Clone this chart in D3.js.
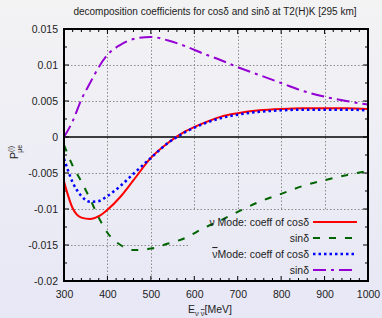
<!DOCTYPE html>
<html><head><meta charset="utf-8">
<script src="https://cdn.jsdelivr.net/npm/d3@7"></script>
<style>html,body{margin:0;padding:0;}svg{display:block;}</style>
</head><body>
<script>
const energies = [300,320,340,360,380,400,430,460,500,540,580,620,660,700,750,800,850,900,950,1000];
const nuCos   = [-0.0062,-0.0099,-0.0112,-0.0114,-0.0110,-0.0101,-0.0083,-0.0060,-0.0029,-0.0008,0.0008,0.0019,0.0028,0.0033,0.0037,0.0039,0.0040,0.0040,0.0040,0.0039];
const nuSin   = [-0.0011,-0.0040,-0.0062,-0.0086,-0.0112,-0.0133,-0.0150,-0.0157,-0.0155,-0.0148,-0.0140,-0.0127,-0.0116,-0.0104,-0.0090,-0.0079,-0.0068,-0.0060,-0.0053,-0.0047];
const barCos  = [-0.0030,-0.0063,-0.0082,-0.0090,-0.0089,-0.0082,-0.0068,-0.0051,-0.0029,-0.0008,0.0007,0.0018,0.0026,0.0031,0.0035,0.0037,0.0038,0.0038,0.0038,0.0037];
const barSin  = [0.0000,0.0022,0.0052,0.0075,0.0097,0.0114,0.0128,0.0136,0.0139,0.0134,0.0126,0.0116,0.0107,0.0097,0.0086,0.0075,0.0064,0.0056,0.0050,0.0045];
const xTicks = [300,400,500,600,700,800,900,1000];
const yTicks = [0.015,0.01,0.005,0,-0.005,-0.01,-0.015,-0.02];
const yTickLabels = ["0.015","0.01","0.005","0","-0.005","-0.01","-0.015","-0.02"];
// [overlined neutrino symbol?, rest of text]
const legendLabels = [[null,""],[null,"sinδ"],[null,""],[null,"sinδ"]];
const legendMode = ["ν","","ν",""];
const legendBar = [false,false,true,false];
const legendRest = [" Mode: coeff of cosδ","sinδ","Mode: coeff of cosδ","sinδ"];

const W = 382, H = 318;
const L = 64, R = 368, T = 29, B = 281;
const font = "'Liberation Sans', Arial, sans-serif";

const svg = d3.select("body").append("svg").attr("width", W).attr("height", H);
const defs = svg.append("defs");
const grad = defs.append("linearGradient").attr("id","bg").attr("x1",0).attr("y1",0).attr("x2",0).attr("y2",1);
grad.append("stop").attr("offset","0%").attr("stop-color","#f3f3f4");
grad.append("stop").attr("offset","100%").attr("stop-color","#e7e7f6");
svg.append("rect").attr("width",W).attr("height",H).attr("fill","url(#bg)");

const x = d3.scaleLinear().domain([300,1000]).range([L,R]);
const y = d3.scaleLinear().domain([-0.02,0.015]).range([B,T]);

const legX0 = 189, legY0 = 211;

// grid
const grid = svg.append("g").attr("stroke","#8a8a8a").attr("stroke-width",1).attr("stroke-dasharray","1.5,2");
xTicks.slice(1,-1).forEach(v=>{
  const px = Math.round(x(v))+0.5;
  const yEnd = px > legX0 ? legY0 : B;
  grid.append("line").attr("x1",px).attr("x2",px).attr("y1",T).attr("y2",yEnd);
});
yTicks.slice(1,-1).forEach(v=>{
  if (v===0) return;
  const py = Math.round(y(v))+0.5;
  const xEnd = py > legY0 ? legX0 : R;
  grid.append("line").attr("x1",L).attr("x2",xEnd).attr("y1",py).attr("y2",py);
});
svg.append("line").attr("x1",L).attr("x2",R).attr("y1",y(0)).attr("y2",y(0)).attr("stroke","#000").attr("stroke-width",1.5);

// ticks
const tk = svg.append("g").attr("stroke","#000").attr("stroke-width",1);
d3.range(300,1001,20).forEach(v=>{
  const major = v%100===0; const len = major?5:3; const px = x(v);
  tk.append("line").attr("x1",px).attr("x2",px).attr("y1",B).attr("y2",B-len);
  tk.append("line").attr("x1",px).attr("x2",px).attr("y1",T).attr("y2",T+len);
});
d3.range(-0.02,0.01501,0.0025).forEach(v=>{
  const major = Math.abs(Math.round(v/0.005)*0.005 - v) < 1e-9; const len = major?5:3; const py = y(v);
  tk.append("line").attr("x1",L).attr("x2",L+len).attr("y1",py).attr("y2",py);
  tk.append("line").attr("x1",R).attr("x2",R-len).attr("y1",py).attr("y2",py);
});

const xAxis = svg.append("g").attr("transform",`translate(0,${B})`)
  .call(d3.axisBottom(x).tickValues(xTicks).tickSize(0).tickPadding(10).tickFormat(d3.format("d")));
xAxis.select(".domain").remove();
xAxis.selectAll("text").attr("font-family",font).attr("font-size","10.5px").attr("fill","#222");
const yAxis = svg.append("g").attr("transform",`translate(${L},0)`)
  .call(d3.axisLeft(y).tickValues(yTicks).tickSize(0).tickPadding(6).tickFormat((d,i)=>yTickLabels[i]));
yAxis.select(".domain").remove();
yAxis.selectAll("text").attr("font-family",font).attr("font-size","10.5px").attr("fill","#222");

// curves
const series = [
  {vals: nuCos, color:"#ff0000", dash:null, w:2},
  {vals: nuSin, color:"#006400", dash:"7,9", w:2},
  {vals: barCos, color:"#0000ff", dash:"2.5,3", w:2.5},
  {vals: barSin, color:"#9400d3", dash:"13,5,3,5", w:2}
];
const line = d3.line().x(d=>x(d[0])).y(d=>y(d[1])).curve(d3.curveMonotoneX);
series.forEach(s=>{
  svg.append("path").datum(energies.map((e,i)=>[e,s.vals[i]]))
    .attr("d",line).attr("fill","none").attr("stroke",s.color).attr("stroke-width",s.w)
    .attr("stroke-dasharray",s.dash);
});

svg.append("rect").attr("x",L).attr("y",T).attr("width",R-L).attr("height",B-T)
  .attr("fill","none").attr("stroke","#000").attr("stroke-width",2);

// legend
const legRows = [222,238,254,270];
series.forEach((s,i)=>{
  svg.append("line").attr("x1",313).attr("x2",357).attr("y1",legRows[i]).attr("y2",legRows[i])
    .attr("stroke",s.color).attr("stroke-width",s.w).attr("stroke-dasharray",s.dash);
  const t = svg.append("text").attr("x",309).attr("y",legRows[i]+4).attr("text-anchor","end")
    .attr("font-family",font).attr("font-size","10.5px").attr("fill","#222");
  if (legendMode[i]) {
    const ts = t.append("tspan").text(legendMode[i]);
    if (legendBar[i]) ts.style("text-decoration","overline");
  }
  t.append("tspan").text(legendRest[i]);
});

svg.append("text").attr("x",215).attr("y",15).attr("text-anchor","middle")
  .attr("font-family",font).attr("font-size","10px").attr("fill","#222")
  .text("decomposition coefficients for cosδ and sinδ at T2(H)K [295 km]");

// x label
const xl = svg.append("text").attr("x",210).attr("y",313).attr("text-anchor","middle")
  .attr("font-family",font).attr("font-size","10.5px").attr("fill","#222");
xl.append("tspan").text("E");
xl.append("tspan").attr("font-size","7.5px").attr("dy",3).text("ν ");
xl.append("tspan").attr("font-size","7.5px").style("text-decoration","overline").text("ν");
xl.append("tspan").attr("dy",-3).text("[MeV]");

// y label
const yl = svg.append("text").attr("transform","translate(18,152) rotate(-90)").attr("text-anchor","middle")
  .attr("font-family",font).attr("font-size","10.5px").attr("fill","#222");
yl.append("tspan").text("P");
yl.append("tspan").attr("font-size","7px").attr("dy",-5).text("(i)");
yl.append("tspan").attr("font-size","7px").attr("dx",-7).attr("dy",9).text("μe");
</script>
</body></html>
